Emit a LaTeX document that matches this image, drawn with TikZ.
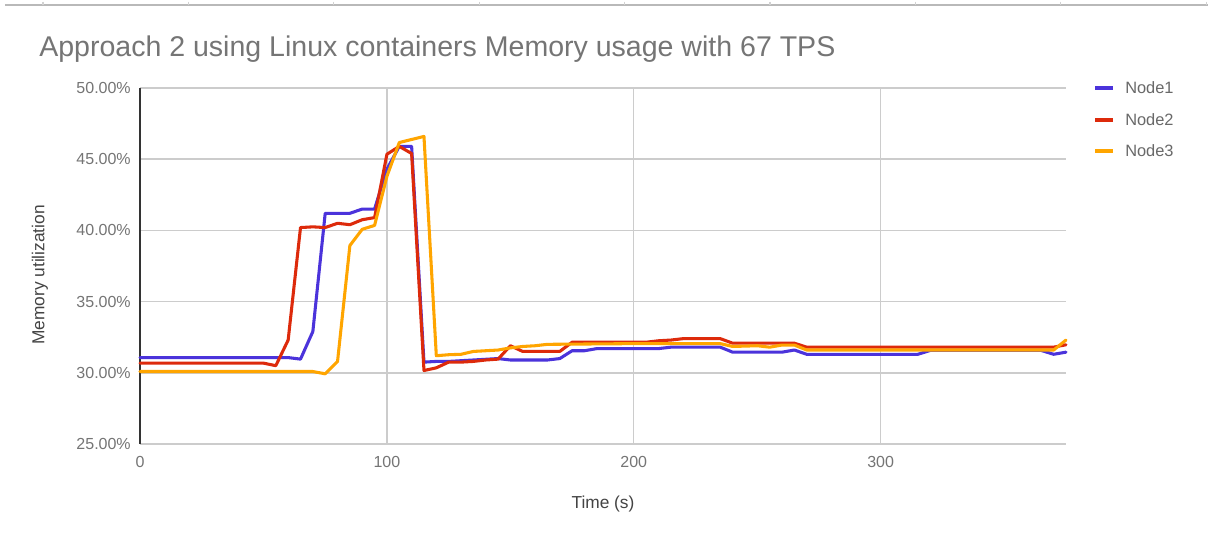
\documentclass[tikz,border=0pt]{standalone}
\usepackage{fontspec}
\setmainfont{Liberation Sans}
\definecolor{nodeone}{HTML}{4B33DB}
\definecolor{nodetwo}{HTML}{DD2A0B}
\definecolor{nodethree}{HTML}{FFA500}
\definecolor{labelgray}{HTML}{757575}
\definecolor{titlegray}{HTML}{444444}
\definecolor{gridgray}{HTML}{CCCCCC}
\tikzset{
  gridline/.style={draw=gridgray, line width=1.1pt},
  series/.style={line width=2.3pt, line join=round, line cap=round},
  ticklabel/.style={text=labelgray, font=\fontsize{12pt}{14pt}\selectfont, inner sep=0pt},
  axistitle/.style={text=titlegray, font=\fontsize{13pt}{15pt}\selectfont, inner sep=0pt},
  legendtext/.style={text=labelgray!90!black, font=\fontsize{12.3pt}{14pt}\selectfont, inner sep=0pt, anchor=west},
  legendkey/.style={line width=3pt},
}
\begin{document}
\begin{tikzpicture}[x=0.75pt,y=-0.75pt]
\useasboundingbox (0,0) rectangle (1208,537);
\fill[white] (0,0) rectangle (1208,537);

% frame rule along the top with its small ticks
\draw[draw=gray!55, line width=1.4pt] (5,5) -- (1208,5);
\foreach \i in {0,...,8}
  \draw[draw=gray!35, line width=0.8pt] ({43+145.4*\i},1.5) -- ++(0,3);

% title
\node[anchor=base west, text=labelgray, font=\fontsize{21.4pt}{25pt}\selectfont, inner sep=0pt]
  (title) at (39,56) {Approach 2 using Linux containers Memory usage with 67 TPS};

% grid
\foreach \y in {88,159.2,230.4,301.6,372.8}
  \draw[gridline] (140,\y) -- (1066,\y);
\foreach \x in {386.9,633.7,880.6}
  \draw[gridline] (\x,88) -- (\x,444);
\draw[gridline] (140,444) -- (1066,444);
\draw[draw=black!80, line width=1.1pt] (140,88) -- (140,444);

% y tick labels
\node[ticklabel, anchor=east] (y50) at (131,88)    {50.00\%};
\node[ticklabel, anchor=east] (y45) at (131,159.2) {45.00\%};
\node[ticklabel, anchor=east] (y40) at (131,230.4) {40.00\%};
\node[ticklabel, anchor=east] (y35) at (131,301.6) {35.00\%};
\node[ticklabel, anchor=east] (y30) at (131,372.8) {30.00\%};
\node[ticklabel, anchor=east] (y25) at (131,444)   {25.00\%};

% x tick labels
\node[ticklabel, anchor=base] (x0)   at (140,467)   {0};
\node[ticklabel, anchor=base] (x100) at (386.9,467) {100};
\node[ticklabel, anchor=base] (x200) at (633.7,467) {200};
\node[ticklabel, anchor=base] (x300) at (880.6,467) {300};

% axis titles
\node[axistitle] (xtitle) at (603,504) {Time (s)};
\node[axistitle, rotate=90] (ytitle) at (40,275) {Memory utilization};

% data: time (s) against memory use minus 30 %
\begin{scope}[shift={(140,372.8)}, xscale=2.4693, yscale=-14.24]
\draw[series, nodeone] plot coordinates {
 (0,1.07) (60,1.07) (65,0.96) (70,2.9) (75,11.2) (80,11.2) (85,11.2)
 (90,11.5) (95,11.5) (100,14.3) (105,15.9) (110,15.9) (115,0.75)
 (120,0.8) (125,0.8) (130,0.85) (135,0.9) (140,0.95) (145,1.0)
 (150,0.9) (165,0.9) (170,1.0) (175,1.55) (180,1.55) (185,1.7)
 (210,1.7) (215,1.8) (235,1.8) (240,1.45) (260,1.45) (265,1.6)
 (270,1.3) (315,1.3) (320,1.57) (365,1.57) (370,1.3) (375,1.45)};
\draw[series, nodetwo] plot coordinates {
 (0,0.68) (50,0.68) (55,0.5) (60,2.3) (65,10.2) (70,10.25) (75,10.2)
 (80,10.5) (85,10.4) (90,10.75) (95,10.9) (100,15.35) (105,15.9)
 (110,15.4) (115,0.16) (120,0.35) (125,0.75) (130,0.75) (135,0.8)
 (140,0.9) (145,0.96) (150,1.9) (155,1.5) (170,1.5) (175,2.15)
 (205,2.15) (210,2.25) (215,2.3) (220,2.4) (235,2.4) (240,2.08)
 (265,2.08) (270,1.8) (370,1.8) (375,1.97)};
\draw[series, nodethree] plot coordinates {
 (0,0.09) (70,0.09) (75,-0.07) (80,0.8) (85,8.94) (90,10.08) (95,10.35)
 (100,13.8) (105,16.17) (115,16.6) (120,1.2) (125,1.27) (130,1.3)
 (135,1.5) (145,1.6) (150,1.75) (155,1.85) (160,1.9) (165,2.0)
 (200,2.05) (235,2.05) (240,1.85) (250,1.9) (255,1.8) (260,1.95)
 (265,1.95) (270,1.6) (370,1.6) (375,2.3)};
\end{scope}

% legend
\coordinate (k1a) at (1095,87.5);  \coordinate (k1b) at (1113,87.5);
\coordinate (k2a) at (1095,120);   \coordinate (k2b) at (1113,120);
\coordinate (k3a) at (1095,151);   \coordinate (k3b) at (1113,151);
\draw[legendkey, nodeone]   (k1a) -- (k1b);
\draw[legendkey, nodetwo]   (k2a) -- (k2b);
\draw[legendkey, nodethree] (k3a) -- (k3b);
\node[legendtext] (l1) at (1125,88)  {Node1};
\node[legendtext] (l2) at (1125,120) {Node2};
\node[legendtext] (l3) at (1125,151) {Node3};
\end{tikzpicture}
\end{document}
